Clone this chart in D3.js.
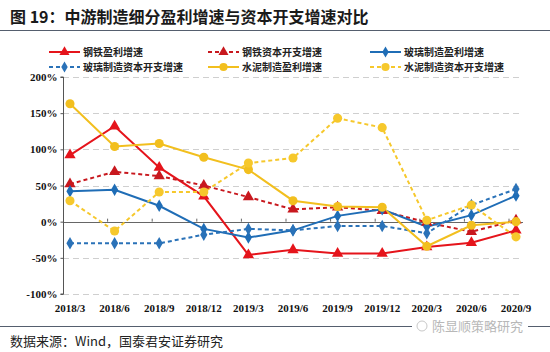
<!DOCTYPE html>
<html>
<head>
<meta charset="utf-8">
<script src="https://cdn.jsdelivr.net/npm/d3@7"></script>
<style>
  body { margin: 0; background: #fff; }
  svg { display: block; }
</style>
</head>
<body>
<div id="chart"></div>
<script>
let width = 550, height = 352;
let margin = ({top: 77, right: 27, bottom: 58, left: 63});

// categories
let periods = ["2018/3","2018/6","2018/9","2018/12","2019/3","2019/6","2019/9","2019/12","2020/3","2020/6","2020/9"];
let yTicks = [-100, -50, 0, 50, 100, 150, 200];

// series values (%)
let steelProfit   = [92, 132, 75, 35, -46, -39, -44, -44, -35, -29, -12];
let steelCapex    = [52, 69, 63, 50, 34, 17, 20, 15, -1, -14, 2];
let glassProfit   = [42, 44, 22, -10, -22, -12, 8, 17, -7, 9, 36];
let glassCapex    = [-30, -30, -30, -18, -10, -12, -6, -6, -16, 23, 45];
let cementProfit  = [163, 104, 108, 89, 72, 29, 21, 20, -34, -5, 0];
let cementCapex   = [29, -13, 41, 41, 81, 88, 143, 130, 2, 23, -21];

let series = [
  {name: "钢铁盈利增速",       values: steelProfit,  color: "#e5141b", dash: null,  sym: d3.symbolTriangle, size: 55},
  {name: "钢铁资本开支增速",   values: steelCapex,   color: "#c8181e", dash: "4,3", sym: d3.symbolTriangle, size: 55},
  {name: "玻璃制造盈利增速",   values: glassProfit,  color: "#1f6db6", dash: null,  sym: d3.symbolDiamond,  size: 45},
  {name: "玻璃制造资本开支增速", values: glassCapex, color: "#2a72b8", dash: "4,3", sym: d3.symbolDiamond,  size: 45},
  {name: "水泥制造盈利增速",   values: cementProfit, color: "#f2bf1e", dash: null,  sym: d3.symbolCircle,   size: 65},
  {name: "水泥制造资本开支增速", values: cementCapex, color: "#f6c82c", dash: "4,3", sym: d3.symbolCircle,  size: 65}
];

let svg = d3.select("#chart").append("svg")
    .attr("width", width).attr("height", height)
    .attr("viewBox", [0, 0, width, height]);

let cjk = "'Noto Sans CJK SC', sans-serif";
let serif = "'Liberation Serif', 'DejaVu Serif', serif";

// title
svg.append("text")
    .attr("x", 10).attr("y", 23)
    .attr("font-family", cjk).attr("font-weight", "bold")
    .attr("font-size", 16).attr("fill", "#1a1a1a")
    .text("图 19：中游制造细分盈利增速与资本开支增速对比");
svg.append("line")
    .attr("x1", 0).attr("x2", width).attr("y1", 30.5).attr("y2", 30.5)
    .attr("stroke", "#555e6e").attr("stroke-width", 1);

let x = d3.scalePoint(periods, [70, 516]);
let y = d3.scaleLinear([-100, 200], [height - margin.bottom, margin.top]);

// grid
svg.append("g")
    .selectAll("line")
    .data(yTicks.filter(d => d !== 0))
    .join("line")
    .attr("x1", margin.left).attr("x2", width - margin.right)
    .attr("y1", d => Math.round(y(d)) + 0.5).attr("y2", d => Math.round(y(d)) + 0.5)
    .attr("stroke", "#cfcfcf").attr("stroke-dasharray", "6,4");

// zero line
svg.append("line")
    .attr("x1", margin.left).attr("x2", width - margin.right)
    .attr("y1", Math.round(y(0)) + 0.5).attr("y2", Math.round(y(0)) + 0.5)
    .attr("stroke", "#666").attr("stroke-width", 1.2);
svg.append("g")
    .selectAll("line")
    .data(periods.slice(1))
    .join("line")
    .attr("x1", d => x(d) - 7).attr("x2", d => x(d) - 7)
    .attr("y1", y(0) - 3).attr("y2", y(0))
    .attr("stroke", "#666");

// y axis
let yAxis = g => g
    .attr("transform", `translate(${margin.left + 0.5},0)`)
    .call(d3.axisLeft(y).tickValues(yTicks).tickSize(3).tickFormat(d => d + "%"))
    .call(g => g.select(".domain").attr("stroke", "#555").attr("d", `M-3,${y(200)}H0V${y(-100)}H-3`))
    .call(g => g.selectAll(".tick line").attr("stroke", "#555"))
    .call(g => g.selectAll("text")
        .attr("font-family", serif).attr("font-weight", "bold")
        .attr("font-size", 11).attr("fill", "#111").attr("x", -6));
svg.append("g").call(yAxis);

// x labels
svg.append("g")
    .selectAll("text")
    .data(periods)
    .join("text")
    .attr("x", d => x(d)).attr("y", 312)
    .attr("text-anchor", "middle")
    .attr("font-family", serif).attr("font-weight", "bold")
    .attr("font-size", 11).attr("fill", "#111")
    .text(d => d);

// lines
let line = d3.line().x((d, i) => x(periods[i])).y(d => y(d));
let lines = svg.append("g");
series.forEach(s => {
  lines.append("path")
      .datum(s.values)
      .attr("fill", "none")
      .attr("stroke", s.color)
      .attr("stroke-width", 2)
      .attr("stroke-dasharray", s.dash)
      .attr("d", line);
});
series.forEach(s => {
  lines.append("g")
      .selectAll("path")
      .data(s.values)
      .join("path")
      .attr("transform", (d, i) => `translate(${x(periods[i])},${y(d)})`)
      .attr("d", d3.symbol().type(s.sym).size(s.size)())
      .attr("fill", s.color);
});

// legend
let legCols = [49, 208, 370];
let legRows = [52, 67];
let legend = svg.append("g");
series.forEach((s, i) => {
  let lx = legCols[i % 3], ly = legRows[Math.floor(i / 3)];
  let g = legend.append("g").attr("transform", `translate(${lx},${ly})`);
  g.append("line")
      .attr("x1", 0).attr("x2", 31).attr("y1", 0).attr("y2", 0)
      .attr("stroke", s.color).attr("stroke-width", 2)
      .attr("stroke-dasharray", s.dash);
  g.append("path")
      .attr("transform", "translate(15.5,0)")
      .attr("d", d3.symbol().type(s.sym).size(s.size * 0.8)())
      .attr("fill", s.color);
  g.append("text")
      .attr("x", 34).attr("y", 3.5)
      .attr("font-family", cjk).attr("font-size", 10)
      .attr("font-weight", "bold").attr("fill", "#222")
      .text(s.name);
});

// footer
svg.append("line")
    .attr("x1", 0).attr("x2", width).attr("y1", 326.5).attr("y2", 326.5)
    .attr("stroke", "#555e6e").attr("stroke-width", 1);
svg.append("rect")
    .attr("x", 412).attr("y", 318).attr("width", 116).attr("height", 16)
    .attr("fill", "#fff");
svg.append("circle")
    .attr("cx", 422).attr("cy", 326).attr("r", 5)
    .attr("fill", "none").attr("stroke", "#c8c8c8");
svg.append("text")
    .attr("x", 432).attr("y", 331)
    .attr("font-family", cjk).attr("font-size", 13)
    .attr("fill", "#b8b8b8")
    .text("陈显顺策略研究");
svg.append("text")
    .attr("x", 10).attr("y", 346)
    .attr("font-family", cjk).attr("font-size", 13)
    .attr("fill", "#222")
    .text("数据来源：Wind，国泰君安证券研究");
</script>
</body>
</html>
